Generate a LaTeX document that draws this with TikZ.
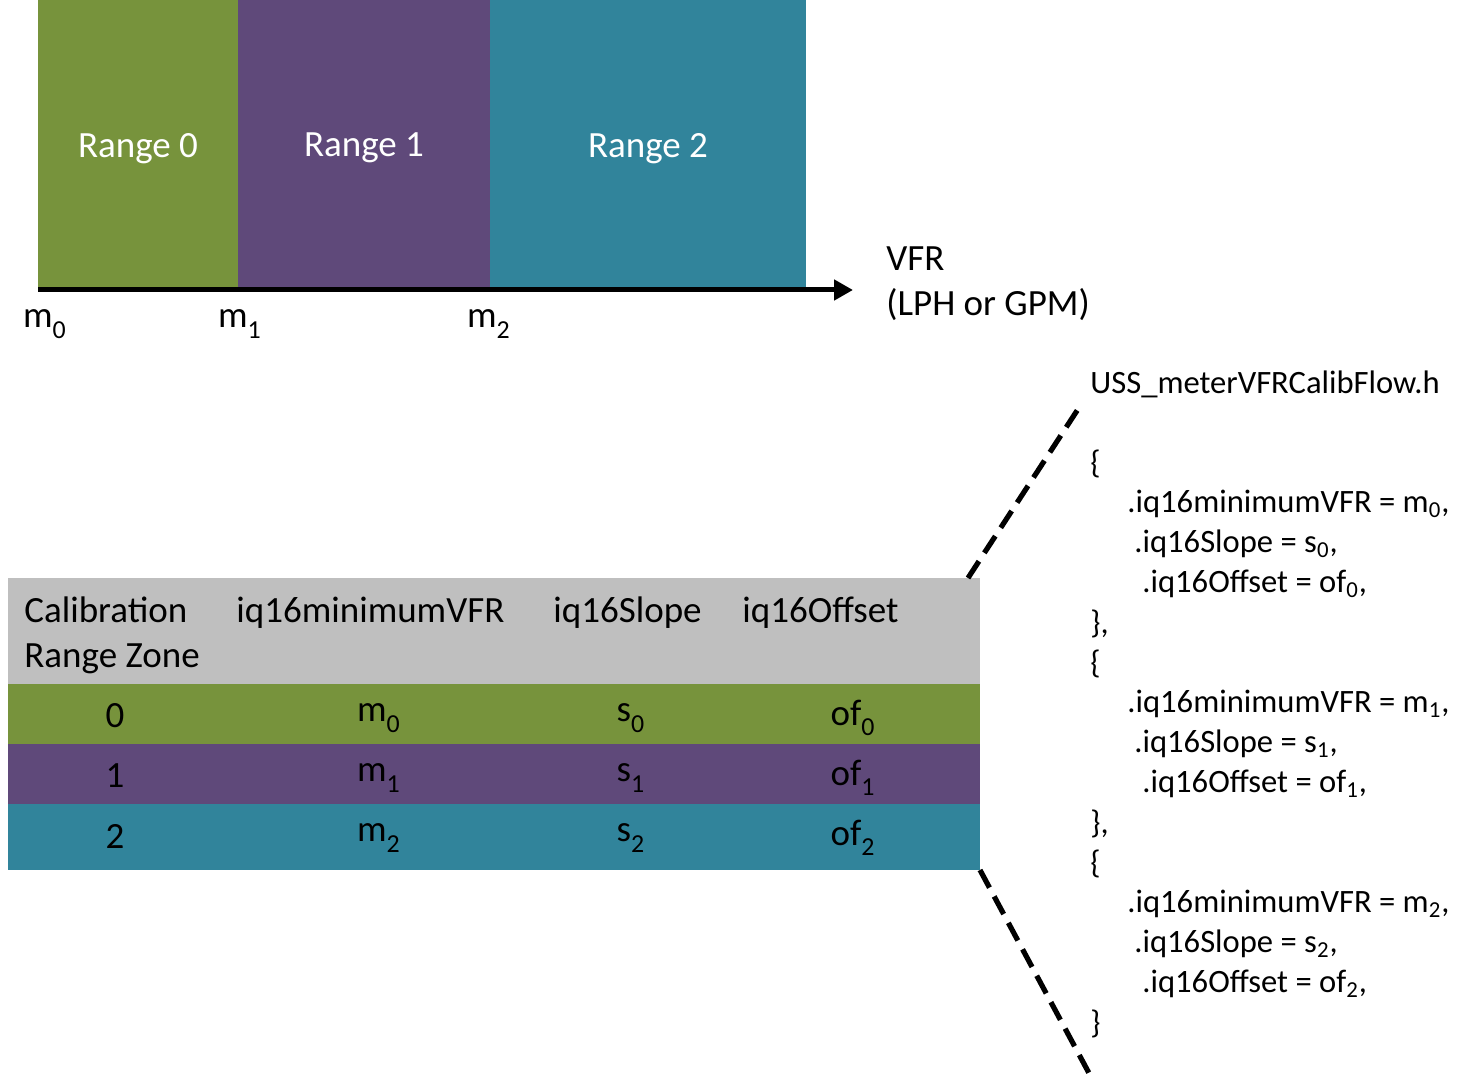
\documentclass[tikz,border=0pt]{standalone}
\usepackage{fontspec}
\setmainfont{Carlito}
\usetikzlibrary{arrows.meta}
\definecolor{vfrgreen}{HTML}{77933C}
\definecolor{vfrpurple}{HTML}{5F497A}
\definecolor{vfrteal}{HTML}{31849B}
\definecolor{hdrgrey}{HTML}{BFBFBF}
\newcommand{\lowsub}[1]{\raisebox{-0.3ex}{\textsubscript{#1}}}

\begin{document}
\begin{tikzpicture}[
    x=0.5pt, y=-0.5pt,
    band/.style={anchor=north west, inner sep=0pt, outer sep=0pt, text=white, text depth=0pt,
                 font=\fontsize{18.5}{22.5}\selectfont},
    cell/.style={inner sep=0pt, font=\fontsize{18.5}{22.5}\selectfont},
    code/.style={anchor=west, inner sep=0pt, font=\fontsize{16.3}{20}\selectfont},
    zoomline/.style={line width=2.6pt, dash pattern=on 10pt off 5pt}
    ]
\useasboundingbox (0,0) rectangle (1472,1080);
% ranges on the flow axis
\node[band, fill=vfrgreen, minimum width=100pt, minimum height=145pt] (range0) at (38,0) {Range 0};
\node[band, fill=vfrpurple, minimum width=126pt, minimum height=145pt] (range1) at (range0.north east) {Range 1};
\node[band, fill=vfrteal, minimum width=158pt, minimum height=145pt] (range2) at (range1.north east) {Range 2};
\coordinate (vfrend) at (853,290);
\draw[line width=2.5pt, -{Triangle[length=9.5pt, width=10pt]}] (range0.south west) -- (vfrend);
\node[cell] (tick0) at (45,324) {m\lowsub{0}};
\node[cell] (tick1) at (240,324) {m\lowsub{1}};
\node[cell] (tick2) at (489,324) {m\lowsub{2}};
\node[cell, anchor=west, align=left] (vfr) at (886,284) {VFR\\(LPH or GPM)};
%
% calibration table
\node[band, fill=hdrgrey, minimum width=486pt, minimum height=53pt] (hdr) at (8,578) {};
\node[band, fill=vfrgreen, minimum width=486pt, minimum height=30pt] (row0) at (hdr.south west) {};
\node[band, fill=vfrpurple, minimum width=486pt, minimum height=30pt] (row1) at (row0.south west) {};
\node[band, fill=vfrteal, minimum width=486pt, minimum height=33pt] (row2) at (row1.south west) {};
\node[cell, anchor=west, align=left] (hzone) at (24,635) {Calibration\\Range Zone};
\node[cell, anchor=west] (hmin) at (236,613) {iq16minimumVFR};
\node[cell, anchor=west] (hslope) at (553,613) {iq16Slope};
\node[cell, anchor=west] (hoff) at (742,613) {iq16Offset};
\foreach \r in {0,1,2} {
  \node[cell] (zone\r) at (115,716+60*\r) {\r};
  \node[cell] (min\r) at (379,718+60*\r) {m\lowsub{\r}};
  \node[cell] (slope\r) at (631,718+60*\r) {s\lowsub{\r}};
  \node[cell] (off\r) at (853,718+60*\r) {of\lowsub{\r}};
}
%
% header file listing
\coordinate (zoomtop) at (1082,403);
\coordinate (zoombot) at (1090,1075);
\draw[zoomline] (hdr.north east) ++(-12,0) -- (zoomtop);
\draw[zoomline] (row2.south east) -- (zoombot);
\node[code] (cfile) at (1090,384) {USS\_meterVFRCalibFlow.h};
\foreach \b/\sep in {0/{,},1/{,},2/{}} {
  \node[code] (copen\b) at (1090,464+200*\b) {\{};
  \node[code] (cmin\b) at (1127,504+200*\b) {.iq16minimumVFR = m\textsubscript{\b},};
  \node[code] (cslope\b) at (1134,544+200*\b) {.iq16Slope = s\textsubscript{\b},};
  \node[code] (coff\b) at (1142,584+200*\b) {.iq16Offset = of\textsubscript{\b},};
  \node[code] (cclose\b) at (1090,624+200*\b) {\}\sep};
}
\end{tikzpicture}
\end{document}
